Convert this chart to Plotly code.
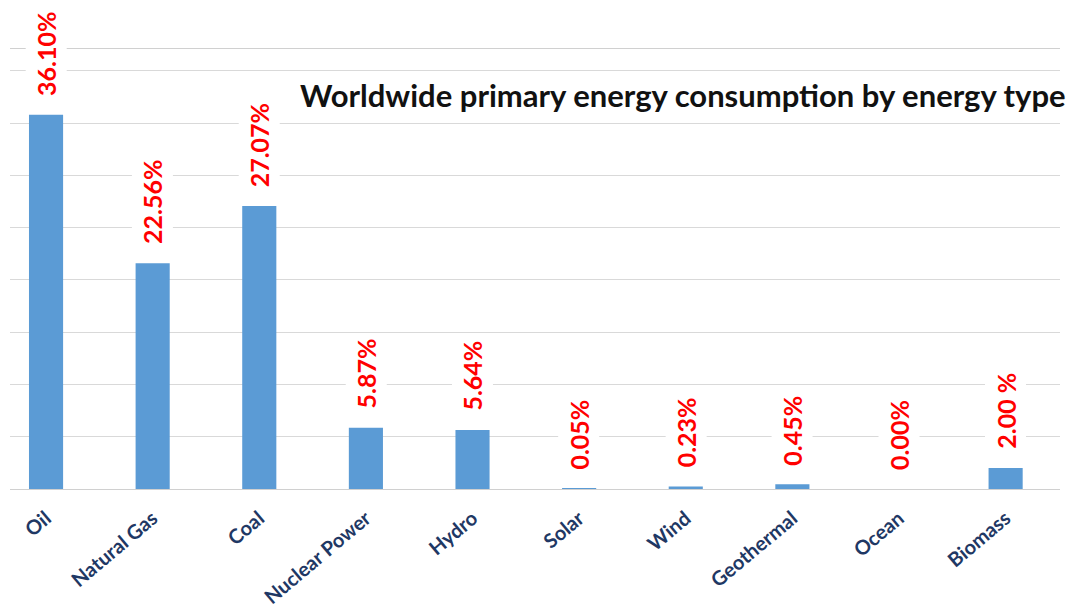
import plotly.graph_objects as go

categories = ["Oil", "Natural Gas", "Coal", "Nuclear Power", "Hydro",
              "Solar", "Wind", "Geothermal", "Ocean", "Biomass"]
bar_values = [35.8, 21.6, 27.07, 5.87, 5.64, 0.05, 0.23, 0.45, 0.00, 2.00]
label_texts = ["36.10%", "22.56%", "27.07%", "5.87%", "5.64%",
               "0.05%", "0.23%", "0.45%", "0.00%", "2.00 %"]
title_text = "Worldwide primary energy consumption by energy type"

FONT = "Lato, 'Open Sans', sans-serif"

fig = go.Figure()
fig.add_trace(go.Bar(
    x=categories, y=bar_values,
    marker=dict(color="#5B9BD5", line=dict(width=0)),
    hoverinfo="x+y",
))

for c, v, t in zip(categories, bar_values, label_texts):
    fig.add_annotation(
        x=c, y=v, xref="x", yref="y",
        text="<b>%s</b>" % t, showarrow=False,
        textangle=-90, xanchor="center", yanchor="bottom", yshift=13,
        font=dict(family=FONT, size=25, color="#FF0000"),
        bgcolor="white", borderpad=5,
    )

fig.add_annotation(
    x=0.274, y=0.895, xref="paper", yref="paper",
    text="<b>%s</b>" % title_text, showarrow=False,
    xanchor="left", yanchor="middle",
    font=dict(family=FONT, size=31, color="#111111"),
)

fig.update_layout(
    width=1079, height=615,
    margin=dict(l=10, r=19, t=49, b=126, pad=0, autoexpand=False),
    paper_bgcolor="white", plot_bgcolor="white",
    bargap=0.68, showlegend=False,
    font=dict(family=FONT),
)
fig.update_xaxes(
    range=[-0.338, 9.51], tickangle=-40, automargin=False,
    tickfont=dict(family=FONT, size=20, color="#1F3864"),
    tickprefix="<b>", ticksuffix="</b>", ticklabelstandoff=9,
    showline=True, linecolor="#D0D0D0", linewidth=1, mirror=True,
    ticks="", showgrid=False,
)
fig.update_yaxes(
    range=[0, 42.1], dtick=5, showticklabels=False, automargin=False,
    showgrid=True, gridcolor="#D9D9D9", gridwidth=1,
    zeroline=False, showline=False, ticks="",
)

fig.write_html("out.html")
